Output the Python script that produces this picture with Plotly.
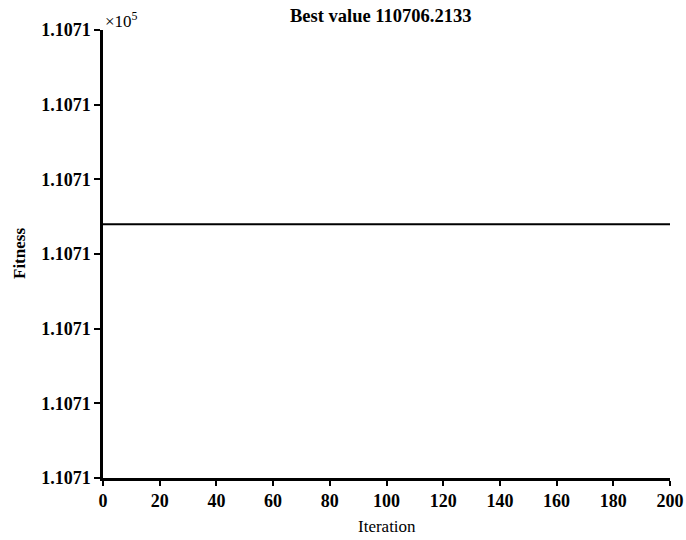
import plotly.graph_objects as go

iterations = list(range(0, 201))
best_value = 110706.2133
fitness = [best_value] * len(iterations)

x_tick_vals = [0, 20, 40, 60, 80, 100, 120, 140, 160, 180, 200]
y_tick_vals = [110706.21296, 110706.21306, 110706.21316, 110706.21326,
               110706.21336, 110706.21346, 110706.21356]
y_tick_text = ["<b>1.1071</b>"] * 7
x_tick_text = ["<b>%d</b>" % v for v in x_tick_vals]

FONT = "Liberation Serif"

fig = go.Figure()
fig.add_trace(go.Scatter(x=iterations, y=fitness, mode="lines",
                         line=dict(color="black", width=2), showlegend=False))

fig.update_layout(
    width=686, height=540,
    margin=dict(l=103, r=16, t=30, b=62),
    paper_bgcolor="white", plot_bgcolor="white",
    font=dict(family=FONT, color="black", size=18),
)
fig.update_xaxes(
    range=[0, 200], tickvals=x_tick_vals, ticktext=x_tick_text, ticks="outside",
    ticklen=5, tickwidth=2, automargin=False,
    tickcolor="black", showline=True, linecolor="black", linewidth=2.5,
    showgrid=False, zeroline=False,
    tickfont=dict(family=FONT, size=18, color="black"),
)
fig.update_yaxes(
    range=[y_tick_vals[0], y_tick_vals[-1]], tickvals=y_tick_vals, ticktext=y_tick_text,
    ticks="outside", ticklen=6, tickwidth=2, tickcolor="black", automargin=False,
    showline=True, linecolor="black", linewidth=2.5, showgrid=False, zeroline=False,
    tickfont=dict(family=FONT, size=18, color="black"),
)
fig.add_annotation(text="<b>Best value 110706.2133</b>", xref="paper", yref="paper",
                   x=0.49, y=1.0, xanchor="center", yanchor="bottom", showarrow=False,
                   yshift=2, font=dict(family=FONT, size=18.5, color="black"))
fig.add_annotation(text="Iteration", xref="paper", yref="paper",
                   x=0.5, y=0.0, xanchor="center", yanchor="top", showarrow=False,
                   yshift=-37, font=dict(family=FONT, size=17, color="black"))
fig.add_annotation(text="<b>Fitness</b>", xref="paper", yref="paper", textangle=-90,
                   x=0.0, y=0.5, xanchor="center", yanchor="middle", showarrow=False,
                   xshift=-84, font=dict(family=FONT, size=17, color="black"))
fig.add_annotation(text="×10<sup>5</sup>", xref="paper", yref="paper", x=0.0, y=1.0,
                   xanchor="left", yanchor="bottom", showarrow=False, xshift=0, yshift=-3,
                   font=dict(family=FONT, size=17, color="black"))

fig.write_html(
    "out.html",
    config={"displayModeBar": False},
    post_script="document.body.style.margin='0';document.body.style.overflow='hidden';",
)
